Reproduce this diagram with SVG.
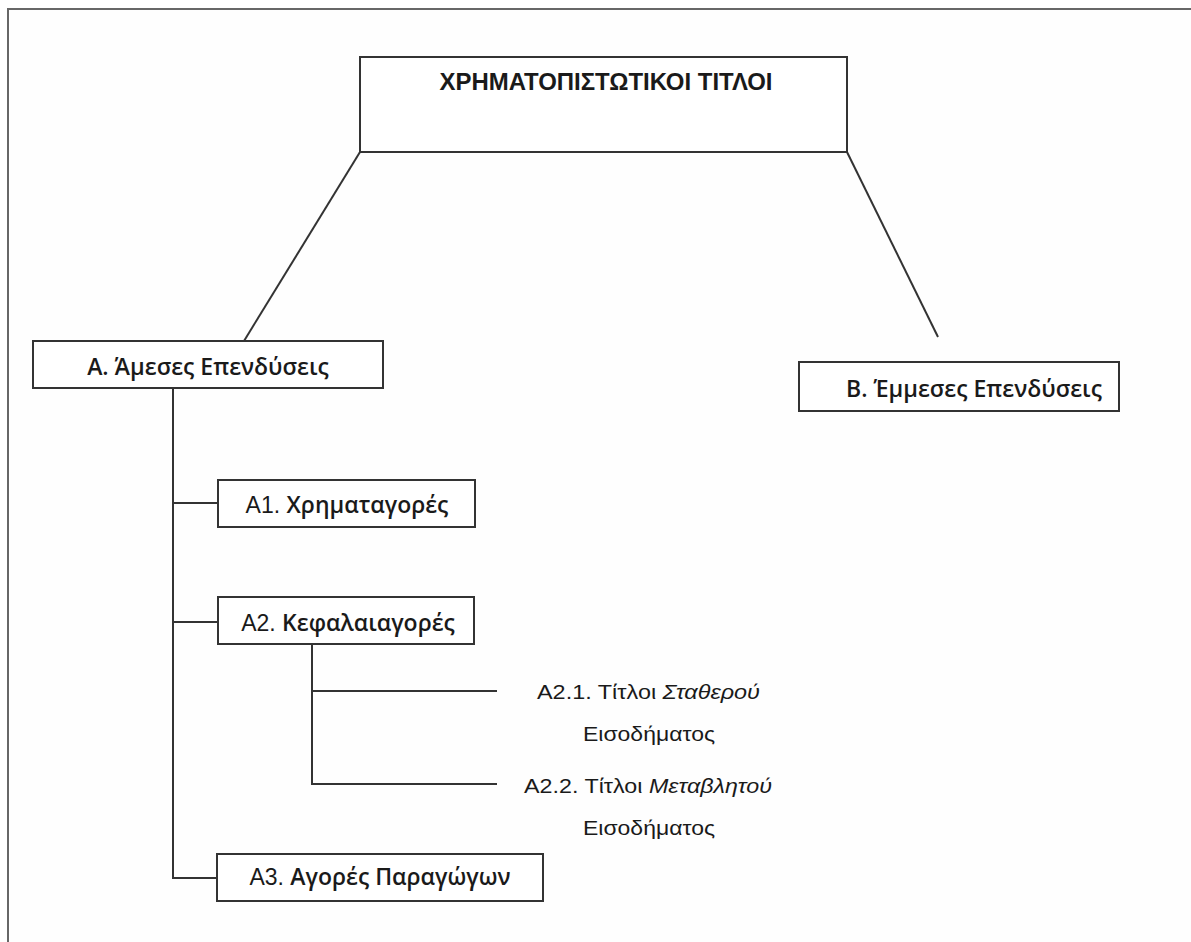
<svg xmlns="http://www.w3.org/2000/svg" width="1191" height="942" viewBox="0 0 1191 942">
  <style>
    .box { fill: #ffffff; stroke: #333333; stroke-width: 2; }
    .link { fill: none; stroke: #333333; stroke-width: 2; }
    .frame { fill: none; stroke: #666666; stroke-width: 2; }
    .title { font-family: "Liberation Sans", Arial, sans-serif; font-weight: 700; font-size: 23px; fill: #1a1a1a; }
    .head { font-family: "Open Sans", "Liberation Sans", sans-serif; font-weight: 600; font-size: 23px; fill: #1a1a1a; }
    .reg { font-family: "Liberation Sans", Arial, sans-serif; font-weight: 400; }
    .plain { font-family: "Liberation Sans", Arial, sans-serif; font-size: 21px; fill: #1a1a1a; }
    .em { font-style: italic; }
  </style>
  <rect width="1191" height="942" fill="#fefefe"/>

  <!-- page frame (top and left edges) -->
  <path class="frame" d="M8,942 V9 H1191"/>

  <!-- connectors -->
  <g id="connectors">
    <line class="link" x1="360" y1="152" x2="244" y2="341"/>
    <line class="link" x1="847" y1="152" x2="938" y2="337"/>
    <polyline class="link" points="173,388 173,878 217,878"/>
    <line class="link" x1="173" y1="503" x2="218" y2="503"/>
    <line class="link" x1="173" y1="622" x2="218" y2="622"/>
    <polyline class="link" points="312,644 312,784 497,784"/>
    <line class="link" x1="312" y1="691" x2="497" y2="691"/>
  </g>

  <g id="root">
    <rect class="box" x="360" y="57" width="487" height="95"/>
    <text class="title" x="606" y="90" text-anchor="middle" textLength="333" lengthAdjust="spacingAndGlyphs">ΧΡΗΜΑΤΟΠΙΣΤΩΤΙΚΟΙ ΤΙΤΛΟΙ</text>
  </g>

  <g id="direct">
    <rect class="box" x="33" y="341" width="350" height="47"/>
    <text class="head" x="208" y="375" text-anchor="middle">Α. Άμεσες Επενδύσεις</text>
  </g>

  <g id="indirect">
    <rect class="box" x="799" y="362" width="320" height="49"/>
    <text class="head" x="974" y="397" text-anchor="middle">Β. Έμμεσες Επενδύσεις</text>
  </g>

  <g id="money-markets">
    <rect class="box" x="218" y="480" width="257" height="47"/>
    <text class="head" x="347" y="513" text-anchor="middle"><tspan class="reg">Α1. </tspan>Χρηματαγορές</text>
  </g>

  <g id="capital-markets">
    <rect class="box" x="218" y="597" width="256" height="47"/>
    <text class="head" x="348" y="631" text-anchor="middle"><tspan class="reg">Α2. </tspan>Κεφαλαιαγορές</text>
  </g>

  <g id="fixed-income">
    <text class="plain" x="537" y="699" textLength="223" lengthAdjust="spacingAndGlyphs">Α2.1. Τίτλοι <tspan class="em">Σταθερού</tspan></text>
    <text class="plain" x="583" y="741" textLength="132" lengthAdjust="spacingAndGlyphs">Εισοδήματος</text>
  </g>

  <g id="variable-income">
    <text class="plain" x="524" y="793" textLength="248" lengthAdjust="spacingAndGlyphs">Α2.2. Τίτλοι <tspan class="em">Μεταβλητού</tspan></text>
    <text class="plain" x="583" y="835" textLength="132" lengthAdjust="spacingAndGlyphs">Εισοδήματος</text>
  </g>

  <g id="derivatives">
    <rect class="box" x="217" y="854" width="326" height="47"/>
    <text class="head" x="380" y="885" text-anchor="middle"><tspan class="reg">Α3. </tspan>Αγορές Παραγώγων</text>
  </g>
</svg>
